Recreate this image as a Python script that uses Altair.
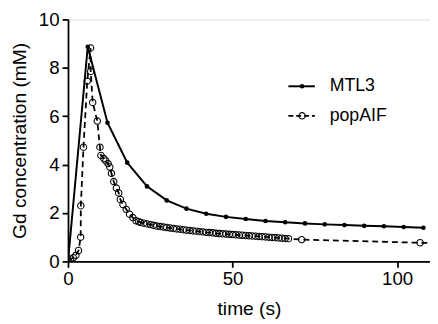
import altair as alt
import pandas as pd

# MTL3 series
mtl3_t = [0, 6, 12, 18, 24, 30, 36, 42, 48, 54, 60, 66, 72, 78, 84, 90, 96, 102, 108]
mtl3_c = [0.0, 8.87, 5.73, 4.08, 3.10, 2.52, 2.18, 1.97, 1.84, 1.75, 1.67, 1.62, 1.57,
          1.53, 1.50, 1.47, 1.45, 1.42, 1.39]

# popAIF series
pop_t = [0, 0.8, 1.6, 2.4, 3.2, 3.85, 3.9, 4.7, 5.85, 6.85, 6.9, 7.5, 8.9, 9.7, 10.0,
         10.9, 11.5, 12.2, 12.7, 13.2, 13.9, 14.7, 15.4, 15.9, 16.7, 17.7, 18.7, 19.7,
         20.7, 21.5,
         22, 23, 24, 25, 26, 27, 28, 29, 30, 31, 32, 33, 34, 35, 36, 37, 38, 39, 40,
         41, 42, 43, 44, 45, 46, 47, 48, 49, 50, 51, 52, 53, 54, 55, 56, 57, 58, 59,
         60, 61, 62, 63, 64, 65, 66, 67, 71, 107, 113]
pop_c = [0.05, 0.10, 0.15, 0.25, 0.45, 1.0, 2.3, 4.72, 7.45, 8.82, 7.85, 6.57, 5.8,
         4.72, 4.38, 4.25, 4.15, 4.04, 3.9, 3.64, 3.3, 3.03, 2.83, 2.56, 2.35, 2.15,
         1.95, 1.81, 1.68, 1.64,
         1.61, 1.58, 1.55, 1.52, 1.49, 1.46, 1.44, 1.42, 1.40, 1.38, 1.36, 1.34, 1.33,
         1.31, 1.29, 1.28, 1.26, 1.25, 1.23, 1.22, 1.20, 1.19, 1.18, 1.16, 1.15, 1.14,
         1.13, 1.12, 1.11, 1.10, 1.09, 1.08, 1.07, 1.06, 1.05, 1.04, 1.03, 1.02, 1.01,
         1.00, 0.99, 0.98, 0.97, 0.96, 0.95, 0.94, 0.90, 0.77, 0.75]

x_ticks = [0, 50, 100]
y_ticks = [0, 2, 4, 6, 8, 10]
legend_names = ["MTL3", "popAIF"]

FONT = "Liberation Sans"

mtl = pd.DataFrame({"t": mtl3_t, "c": mtl3_c})
pop = pd.DataFrame({"t": pop_t, "c": pop_c})

xs = alt.Scale(domain=[0, 110], nice=False, zero=False)
ys = alt.Scale(domain=[0, 10], nice=False)

xax = alt.Axis(values=x_ticks, title="time (s)", grid=False, domainColor="black",
               domainWidth=1.8, tickColor="black", tickWidth=1.8, tickSize=6,
               labelFont=FONT, labelFontSize=19, labelColor="black", labelPadding=3,
               titleFont=FONT, titleFontSize=19.5, titleFontWeight="normal",
               titleColor="black", titlePadding=11, labelFlush=False)
yax = alt.Axis(values=y_ticks, title="Gd concentration (mM)", grid=False,
               domainColor="black", domainWidth=1.8, tickColor="black", tickWidth=1.8,
               tickSize=6, labelFont=FONT, labelFontSize=19, labelColor="black",
               labelPadding=3, titleFont=FONT, titleFontSize=19.5,
               titleFontWeight="normal", titleColor="black", titlePadding=9)

X = alt.X("t:Q", scale=xs, axis=xax)
Y = alt.Y("c:Q", scale=ys, axis=yax)

mtl_line = alt.Chart(mtl).mark_line(color="black", strokeWidth=2, clip=True).encode(x=X, y=Y)
mtl_pts = alt.Chart(mtl).mark_circle(color="black", size=22, opacity=1, clip=True).encode(x=X, y=Y)
pop_line = alt.Chart(pop).mark_line(color="black", strokeWidth=1.8, strokeDash=[6, 4],
                                    clip=True).encode(x=X, y=Y)
pop_pts = alt.Chart(pop).mark_point(shape="circle", filled=False, color="black",
                                    size=42, strokeWidth=1.1, opacity=1,
                                    clip=True).encode(x=X, y=Y)

# legend (drawn in pixel space of the plot area)
leg = pd.DataFrame({"name": legend_names})
leg_mtl = leg[leg["name"] == "MTL3"]
leg_pop = leg[leg["name"] == "popAIF"]
Y1, Y2 = 68, 98

l1 = alt.Chart(leg_mtl).mark_rule(color="black", strokeWidth=2).encode(
    x=alt.value(224), x2=alt.value(251), y=alt.value(Y1))
l1p = alt.Chart(leg_mtl).mark_circle(color="black", size=22, opacity=1).encode(
    x=alt.value(238), y=alt.value(Y1))
l1t = alt.Chart(leg_mtl).mark_text(align="left", baseline="middle", font=FONT, fontSize=18,
                                   color="black").encode(x=alt.value(266), y=alt.value(Y1),
                                                         text="name:N")
l2 = alt.Chart(leg_pop).mark_rule(color="black", strokeWidth=1.8, strokeDash=[5, 3]).encode(
    x=alt.value(224), x2=alt.value(251), y=alt.value(Y2))
l2p = alt.Chart(leg_pop).mark_point(shape="circle", filled=False, color="black", size=42,
                                    strokeWidth=1.1, opacity=1).encode(x=alt.value(238),
                                                                       y=alt.value(Y2))
l2t = alt.Chart(leg_pop).mark_text(align="left", baseline="middle", font=FONT, fontSize=18,
                                   color="black").encode(x=alt.value(266), y=alt.value(Y2),
                                                         text="name:N")

chart = alt.layer(pop_line, pop_pts, mtl_line, mtl_pts, l1, l1p, l1t, l2, l2p, l2t).properties(
    width=368, height=246,
    autosize=alt.AutoSizeParams(type="none"),
    padding={"left": 61, "top": 9, "right": 0, "bottom": 58},
).configure_view(stroke=None).configure(background="white")

chart.save("out.html", embed_options={"renderer": "svg", "actions": False})
